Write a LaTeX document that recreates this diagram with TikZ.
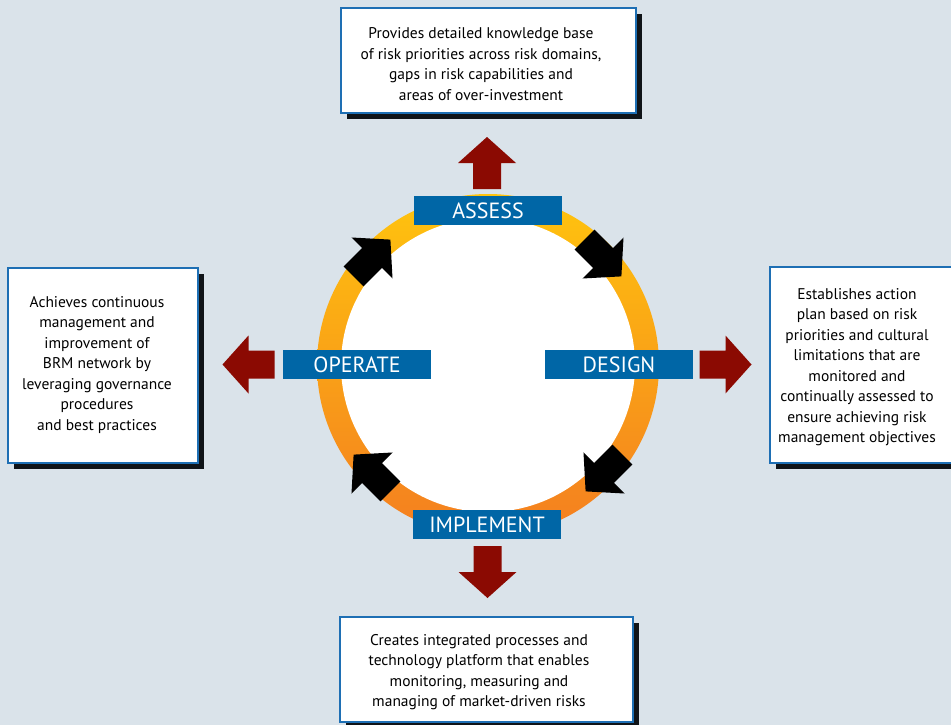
\documentclass[tikz,border=0pt]{standalone}
\usepackage{fontspec}
\setmainfont{PT Sans}

\definecolor{bgcol}{HTML}{DAE3EA}
\definecolor{stageblue}{HTML}{0066A6}
\definecolor{boxblue}{HTML}{1E6FB4}
\definecolor{arrowred}{HTML}{8B0A02}
\definecolor{ringtop}{HTML}{FFC40E}
\definecolor{ringbot}{HTML}{F47E20}
\definecolor{shadowcol}{HTML}{101418}

\tikzset{
  stage/.style={fill=stageblue, text=white, minimum width=148pt, minimum height=29pt,
    inner sep=0pt, font=\fontsize{22}{24}\selectfont},
  infobox/.style={draw=boxblue, line width=1.2pt, fill=white, inner sep=0pt,
    preaction={fill=shadowcol, transform canvas={shift={(6pt,-6pt)}}}},
  infotext/.style={align=center, text=black, inner sep=0pt,
    font=\fontsize{15.5}{20.5}\selectfont},
  pics/fatarrow/.style={code={
    \fill[#1] (-26,-14) -- (0,-14) -- (0,-29) -- (26,0) -- (0,29) -- (0,14) -- (-26,14) -- cycle;}},
}

\begin{document}
\begin{tikzpicture}[x=1pt, y=-1pt]
  \useasboundingbox (0,0) rectangle (951,725);
  \fill[bgcol] (0,0) rectangle (951,725);

  % cycle ring
  \coordinate (hub) at (488,365);
  \shade[top color=ringtop, bottom color=ringbot] (hub) circle (171);
  \fill[white] (hub) circle (147);

  % clockwise arrows on the ring
  \pic[rotate=-45]  at (603,258) {fatarrow=black};
  \pic[rotate=-135] at (604,473) {fatarrow=black};
  \pic[rotate=135]  at (372,473) {fatarrow=black};
  \pic[rotate=45]   at (372,258) {fatarrow=black};

  % stage labels
  \node[stage] (assess)    at (488,210.5) {ASSESS};
  \node[stage] (design)    at (619,364.5) {DESIGN};
  \node[stage] (operate)   at (357,364.5) {OPERATE};
  \node[stage] (implement) at (487,524.5) {IMPLEMENT};

  % outward arrows
  \pic[rotate=90]  at (487,163)     {fatarrow=arrowred};
  \pic[rotate=0]   at (725.5,364.5) {fatarrow=arrowred};
  \pic[rotate=180] at (248.5,364.5) {fatarrow=arrowred};
  \pic[rotate=-90] at (487.5,572)   {fatarrow=arrowred};

  % description boxes
  \node[infobox, minimum width=295pt, minimum height=105pt] (assessbox) at (488.5,60.5) {};
  \node[infotext] (assesstext) at (481,64) {Provides detailed knowledge base\\
    of risk priorities across risk domains,\\gaps in risk capabilities and\\areas of over-investment};

  \node[infobox, minimum width=190pt, minimum height=196pt] (designbox) at (865,365) {};
  \node[infotext] (designtext) at (857,367) {Establishes action\\plan based on risk\\
    priorities and cultural\\limitations that are\\monitored and\\continually assessed to\\
    ensure achieving risk\\management objectives};

  \node[infobox, minimum width=190pt, minimum height=195pt] (operatebox) at (103,365.5) {};
  \node[infotext] (operatetext) at (97,365) {Achieves continuous\\management and\\
    improvement of\\BRM network by\\leveraging governance\\procedures\\and best practices};

  \node[infobox, minimum width=293pt, minimum height=105pt] (implementbox) at (486.5,669.5) {};
  \node[infotext] (implementtext) at (479,672) {Creates integrated processes and\\
    technology platform that enables\\monitoring, measuring and\\managing of market-driven risks};
\end{tikzpicture}
\end{document}
